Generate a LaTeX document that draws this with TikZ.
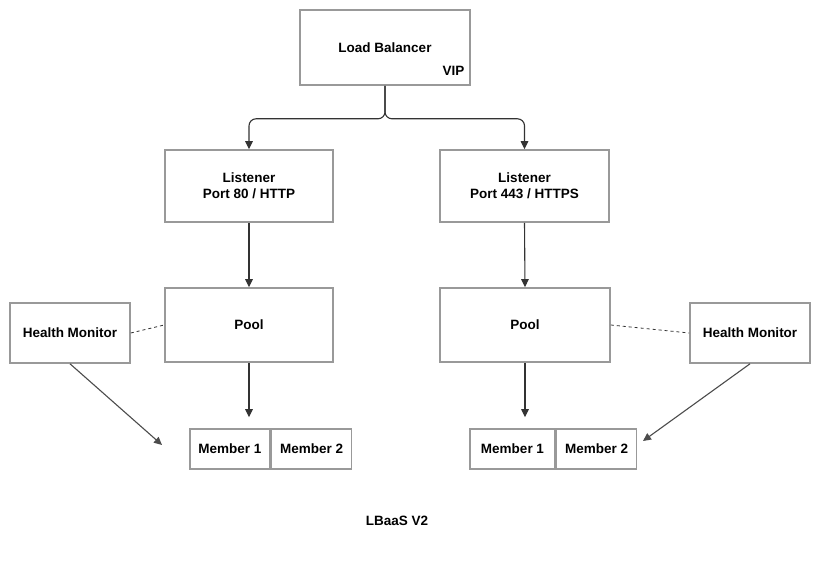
\documentclass[tikz,border=0pt]{standalone}
\usepackage{fontspec}
\setmainfont{Liberation Sans}
\usetikzlibrary{positioning,arrows.meta}
\begin{document}
\begin{tikzpicture}[x=1pt,y=1pt,>={Triangle[length=8pt,width=7.5pt]},
	font=\fontsize{13.5}{16}\selectfont\bfseries,
	box/.style={draw=black!40,line width=1.6pt,align=center,inner sep=0pt},
	conn/.style={draw=black!80,line width=1.1pt}]
	\useasboundingbox[fill=white] (0,0) rectangle (830,560);
	\node[box,minimum width=170,minimum height=75] (lb) at (385,512.5) {Load Balancer};
	\node[anchor=east] at ([shift={(-3,15)}]lb.south east) {VIP};
	\node[box,minimum width=168,minimum height=72] (lisA) at (249,374) {Listener\\Port 80 / HTTP};
	\node[box,minimum width=169,minimum height=72] (lisB) at (524.5,374) {Listener\\Port 443 / HTTPS};
	\node[box,minimum width=168,minimum height=74] (poolA) at (249,235) {Pool};
	\node[box,minimum width=170,minimum height=74] (poolB) at (525,235) {Pool};
	\node[box,minimum width=120,minimum height=60] (hmA) at (70,227) {Health Monitor};
	\node[box,minimum width=120,minimum height=60] (hmB) at (750,227) {Health Monitor};
	\node[box,minimum width=80,minimum height=40] (memA1) at (230,111) {Member 1};
	\node[box,minimum width=80,minimum height=40,right=0pt of memA1] (memA2) {Member 2};
	\node[box,minimum width=85,minimum height=40] (memB1) at (512.5,111) {Member 1};
	\node[box,minimum width=80,minimum height=40,right=0pt of memB1] (memB2) {Member 2};
	\coordinate (hmAend) at (162,115);
	\coordinate (hmBend) at (643,119);
	\node (title) at (397,39) {LBaaS V2};
	% load balancer to listeners
	\draw[conn,->,rounded corners=7pt] (lb.south)--++(0,-33)-|(lisA.north);
	\draw[conn,->,rounded corners=7pt] (lb.south)--++(0,-33)-|(lisB.north);
	\draw[conn,->] (lisA.south)--(poolA.north);
	\draw[conn,->] (lisB.south)--(poolB.north);
	\draw[conn,->,shorten >=11pt] (poolA.south)--(poolA.south|-memA1.north);
	\draw[conn,->,shorten >=11pt] (poolB.south)--(poolB.south|-memB1.north);
	% health monitors
	\draw[conn,dashed,line width=0.8pt] (hmA.east)--(poolA.west);
	\draw[conn,dashed,line width=0.8pt] (poolB.east)--(hmB.west);
	\draw[conn,->,draw=black!70] (hmA.south)--(hmAend);
	\draw[conn,->,draw=black!70] (hmB.south)--(hmBend);
\end{tikzpicture}
\end{document}
